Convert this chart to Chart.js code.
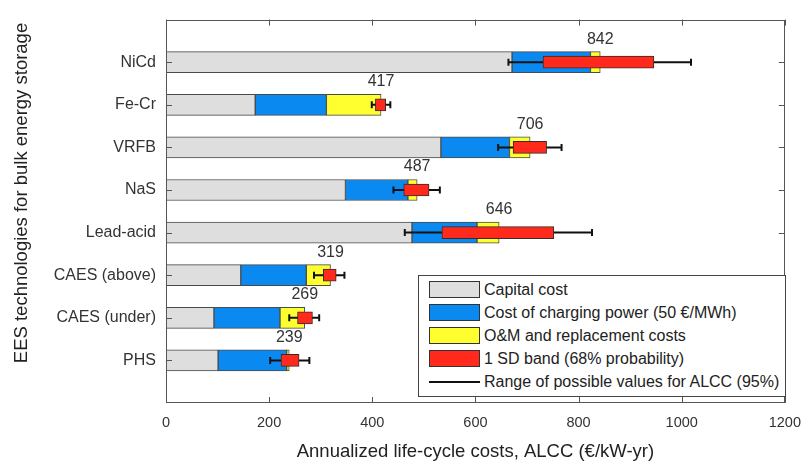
<!DOCTYPE html>
<html>
<head>
<meta charset="utf-8">
<script src="https://cdn.jsdelivr.net/npm/chart.js@4.4.0/dist/chart.umd.min.js"></script>
<style>
html,body{margin:0;padding:0;background:#fff;}
#wrap{position:relative;width:812px;height:468px;overflow:hidden;}
#legend{position:absolute;left:418px;top:275px;width:368px;height:122px;border:1px solid #444;background:#fff;box-sizing:border-box;
  font-family:"Liberation Sans",Arial,sans-serif;font-size:16px;color:#222;padding:2px 0 0 10px;}
.row{display:flex;align-items:center;height:23px;white-space:nowrap;}
.sw{width:51px;height:17px;border:1px solid #333;box-sizing:border-box;margin-right:4px;flex:none;}
.ln{width:51px;height:0;border-top:2px solid #111;margin-right:4px;flex:none;}
</style>
</head>
<body>
<div id="wrap">
<canvas id="c" width="812" height="468"></canvas>
<div id="legend"></div>
</div>
<script>
// ---- data ----
const categories = ['NiCd','Fe-Cr','VRFB','NaS','Lead-acid','CAES (above)','CAES (under)','PHS'];
const capitalCost  = [671, 173, 533, 348, 477, 145,  93, 101];
const chargingCost = [152, 138, 133, 121, 126, 127, 128, 133];
const omCost       = [ 19, 106,  40,  18,  43,  47,  48,   5];
const totalLabels  = [842, 417, 706, 487, 646, 319, 269, 239];
const sdLow        = [731, 406, 673, 461, 535, 305, 255, 223];
const sdHigh       = [946, 426, 738, 510, 752, 330, 284, 258];
const rangeLow     = [664, 399, 644, 441, 463, 287, 239, 202];
const rangeHigh    = [1018, 435, 767, 531, 826, 346, 297, 278];
const xTicks       = [0, 200, 400, 600, 800, 1000, 1200];
const seriesNames  = ['Capital cost','Cost of charging power (50 €/MWh)','O&M and replacement costs','1 SD band (68% probability)'];
const rangeName    = 'Range of possible values for ALCC (95%)';
const xTitle = 'Annualized life-cycle costs, ALCC (€/kW-yr)';
const yTitle = 'EES technologies for bulk energy storage';

const FONT = '"Liberation Sans", Arial, sans-serif';
Chart.defaults.font.family = FONT;

const pad = a => [null, ...a, null];
const yLabels = ['', ...categories, ''];
const colors = ['#dedede', '#0a8af0', '#ffff30', '#ff2a1c'];

// cumulative segments of the cost stack (floating bars)
const seg1 = capitalCost.map(c => [0, c]);
const seg2 = capitalCost.map((c, i) => [c, c + chargingCost[i]]);
const seg3 = capitalCost.map((c, i) => [c + chargingCost[i], c + chargingCost[i] + omCost[i]]);
const segSD = sdLow.map((l, i) => [l, sdHigh[i]]);

const decor = {
  id: 'decor',
  beforeDatasetDraw(chart, args) {
    if (args.index !== 3) return;
    const {ctx, scales: {x, y}} = chart;
    ctx.save();
    ctx.strokeStyle = '#111';
    ctx.lineWidth = 2;
    rangeLow.forEach((lo, i) => {
      const yc = y.getPixelForValue(i + 1);
      const x1 = x.getPixelForValue(lo), x2 = x.getPixelForValue(rangeHigh[i]);
      ctx.beginPath();
      ctx.moveTo(x1, yc); ctx.lineTo(x2, yc);
      ctx.moveTo(x1, yc - 3.5); ctx.lineTo(x1, yc + 3.5);
      ctx.moveTo(x2, yc - 3.5); ctx.lineTo(x2, yc + 3.5);
      ctx.stroke();
    });
    ctx.restore();
  },
  afterDatasetsDraw(chart) {
    const {ctx, chartArea: a, scales: {x, y}} = chart;
    ctx.save();
    ctx.strokeStyle = '#555';
    ctx.lineWidth = 1;
    ctx.strokeRect(Math.round(a.left) + 0.5, Math.round(a.top) + 0.5, Math.round(a.right - a.left) - 1, Math.round(a.bottom - a.top) - 1);
    ctx.beginPath();
    xTicks.forEach(v => {
      const px = Math.round(x.getPixelForValue(v)) + 0.5;
      ctx.moveTo(px, a.bottom); ctx.lineTo(px, a.bottom - 6);
      ctx.moveTo(px, a.top); ctx.lineTo(px, a.top + 6);
    });
    categories.forEach((c, i) => {
      const py = Math.round(y.getPixelForValue(i + 1)) + 0.5;
      ctx.moveTo(a.left, py); ctx.lineTo(a.left + 6, py);
      ctx.moveTo(a.right, py); ctx.lineTo(a.right - 6, py);
    });
    ctx.stroke();
    ctx.fillStyle = '#333';
    ctx.font = '16px ' + FONT;
    ctx.textAlign = 'center';
    ctx.textBaseline = 'middle';
    totalLabels.forEach((t, i) => {
      ctx.fillText(String(t), x.getPixelForValue(t), y.getPixelForValue(i + 1) - 23);
    });
    // y-axis title (placed as in the reference, slightly above the plot centre)
    ctx.fillStyle = '#222';
    ctx.font = '18.5px ' + FONT;
    ctx.translate(21.5, 193);
    ctx.rotate(-Math.PI / 2);
    ctx.fillText(yTitle, 0, 0);
    ctx.restore();
  }
};

const barBase = {borderColor: '#4a4a4a', borderWidth: 1, barThickness: 21, borderSkipped: false, grouped: false, order: 1};
const chart = new Chart(document.getElementById('c'), {
  type: 'bar',
  data: {
    labels: yLabels,
    datasets: [
      {...barBase, label: seriesNames[0], data: pad(seg1), backgroundColor: colors[0]},
      {...barBase, label: seriesNames[1], data: pad(seg2), backgroundColor: colors[1]},
      {...barBase, label: seriesNames[2], data: pad(seg3), backgroundColor: colors[2]},
      {...barBase, label: seriesNames[3], data: pad(segSD), backgroundColor: colors[3],
       borderColor: '#3a2a2a', barThickness: 12, order: 0}
    ]
  },
  options: {
    responsive: false,
    animation: false,
    indexAxis: 'y',
    layout: {padding: {left: 0, right: 20, top: 13, bottom: 0}},
    plugins: {legend: {display: false}, tooltip: {enabled: false}},
    scales: {
      x: {
        type: 'linear', min: 0, max: 1200,
        grid: {display: false, drawTicks: false}, border: {display: false},
        ticks: {stepSize: 200, padding: 11, color: '#333', font: {size: 14.5}, callback: v => String(v)},
        title: {display: true, text: xTitle, color: '#222', font: {size: 18.5}, padding: {top: 0, bottom: 5}},
        afterFit(s) { s.height = 65; }
      },
      y: {
        type: 'category', offset: false,
        grid: {display: false, drawTicks: false}, border: {display: false},
        ticks: {autoSkip: false, padding: 10, color: '#333', font: {size: 16}},
        title: {display: false, text: yTitle},
        afterFit(s) { s.width = 166; }
      }
    }
  },
  plugins: [decor]
});

// legend built from the chart's datasets
const lg = document.getElementById('legend');
chart.data.datasets.forEach(ds => {
  const r = document.createElement('div'); r.className = 'row';
  const s = document.createElement('span'); s.className = 'sw'; s.style.background = ds.backgroundColor;
  const t = document.createElement('span'); t.textContent = ds.label;
  r.appendChild(s); r.appendChild(t); lg.appendChild(r);
});
{
  const r = document.createElement('div'); r.className = 'row';
  const s = document.createElement('span'); s.className = 'ln';
  const t = document.createElement('span'); t.textContent = rangeName;
  r.appendChild(s); r.appendChild(t); lg.appendChild(r);
}
</script>
</body>
</html>
